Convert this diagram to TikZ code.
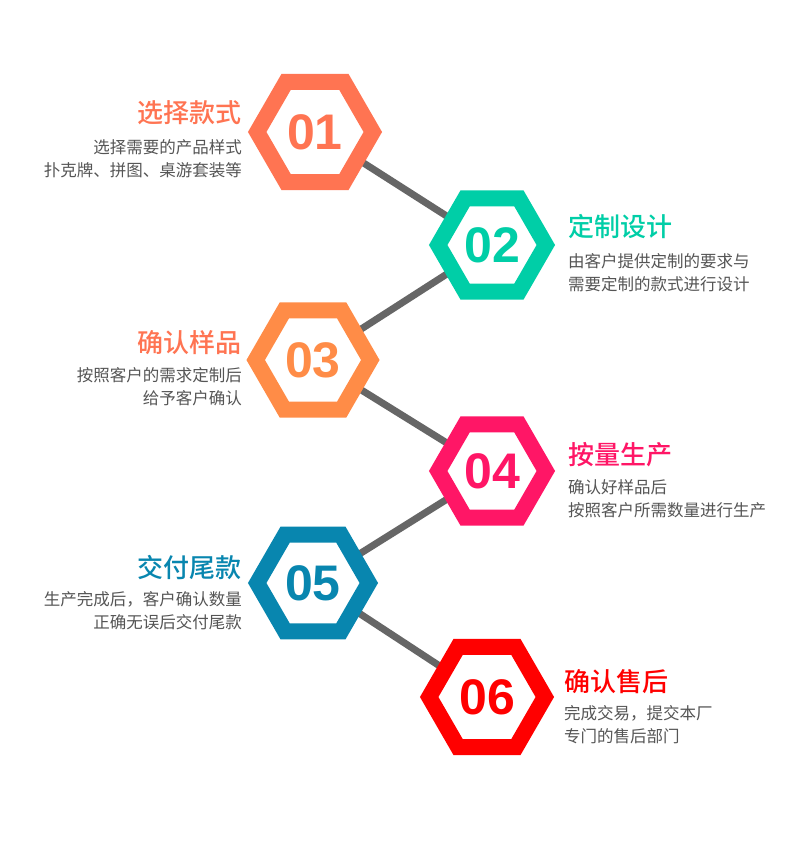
\documentclass[tikz,border=0pt]{standalone}
\usepackage{fontspec}
\setmainfont{Noto Sans CJK SC}
\newfontfamily\headfont{Noto Sans CJK SC Medium}
\newfontfamily\numfont{Liberation Sans}
\usetikzlibrary{shapes.geometric,backgrounds}
\definecolor{stepone}{HTML}{FF7452}
\definecolor{steptwo}{HTML}{00CEA7}
\definecolor{stepthree}{HTML}{FF8C47}
\definecolor{stepfour}{HTML}{FF1666}
\definecolor{stepfive}{HTML}{0886AF}
\definecolor{stepsix}{HTML}{FF0000}
\definecolor{desctext}{HTML}{555555}
\definecolor{linkgray}{HTML}{666666}
\tikzset{
  hexbox/.style 2 args={shape=regular polygon, regular polygon sides=6, draw=#1, fill=white,
    line width=16pt, inner sep=0pt, minimum size=#2, text=#1,
    font=\numfont\bfseries\fontsize{50}{50}\selectfont},
  title/.style={inner sep=0pt, text=#1, font=\headfont\fontsize{26}{26}\selectfont},
  desc/.style={inner sep=0pt, text=desctext, font=\fontsize{16.5}{23}\selectfont},
  link/.style={draw=linkgray, line width=7pt}
}
\begin{document}
\begin{tikzpicture}[x=1pt,y=-1pt]
\useasboundingbox (0,0) rectangle (800,850);

\node[hexbox={stepone}{115.6}] (h1) at (315,132) {01};
\node[hexbox={steptwo}{107.6}] (h2) at (492,245) {02};
\node[hexbox={stepthree}{114.6}] (h3) at (313,360) {03};
\node[hexbox={stepfour}{107.6}] (h4) at (492,471) {04};
\node[hexbox={stepfive}{111.6}] (h5) at (313,583) {05};
\node[hexbox={stepsix}{115.6}] (h6) at (487,697) {06};

\node[title=stepone, anchor=east] (t1) at (242,113) {选择款式};
\node[desc, anchor=east, align=right] (d1) at (242,159) {选择需要的产品样式\\扑克牌、拼图、桌游套装等};

\node[title=steptwo, anchor=west] (t2) at (568,227) {定制设计};
\node[desc, anchor=west, align=left] (d2) at (568,273) {由客户提供定制的要求与\\需要定制的款式进行设计};

\node[title=stepone, anchor=east] (t3) at (242,343) {确认样品};
\node[desc, anchor=east, align=right] (d3) at (242,387) {按照客户的需求定制后\\给予客户确认};

\node[title=stepfour, anchor=west] (t4) at (568,455) {按量生产};
\node[desc, anchor=west, align=left] (d4) at (568,499) {确认好样品后\\按照客户所需数量进行生产};

\node[title=stepfive, anchor=east] (t5) at (242,567) {交付尾款};
\node[desc, anchor=east, align=right] (d5) at (242,611) {生产完成后，客户确认数量\\正确无误后交付尾款};

\node[title=stepsix, anchor=west] (t6) at (564,682) {确认售后};
\node[desc, anchor=west, align=left] (d6) at (564,725) {完成交易，提交本厂\\专门的售后部门};

\begin{scope}[on background layer]
\fill[white] (0,0) rectangle (800,850);
\draw[link] (h1.center) -- (h2.center);
\draw[link] (h2.center) -- (h3.center);
\draw[link] (h3.center) -- (h4.center);
\draw[link] (h4.center) -- (h5.center);
\draw[link] (h5.center) -- (h6.center);
\end{scope}
\end{tikzpicture}
\end{document}
